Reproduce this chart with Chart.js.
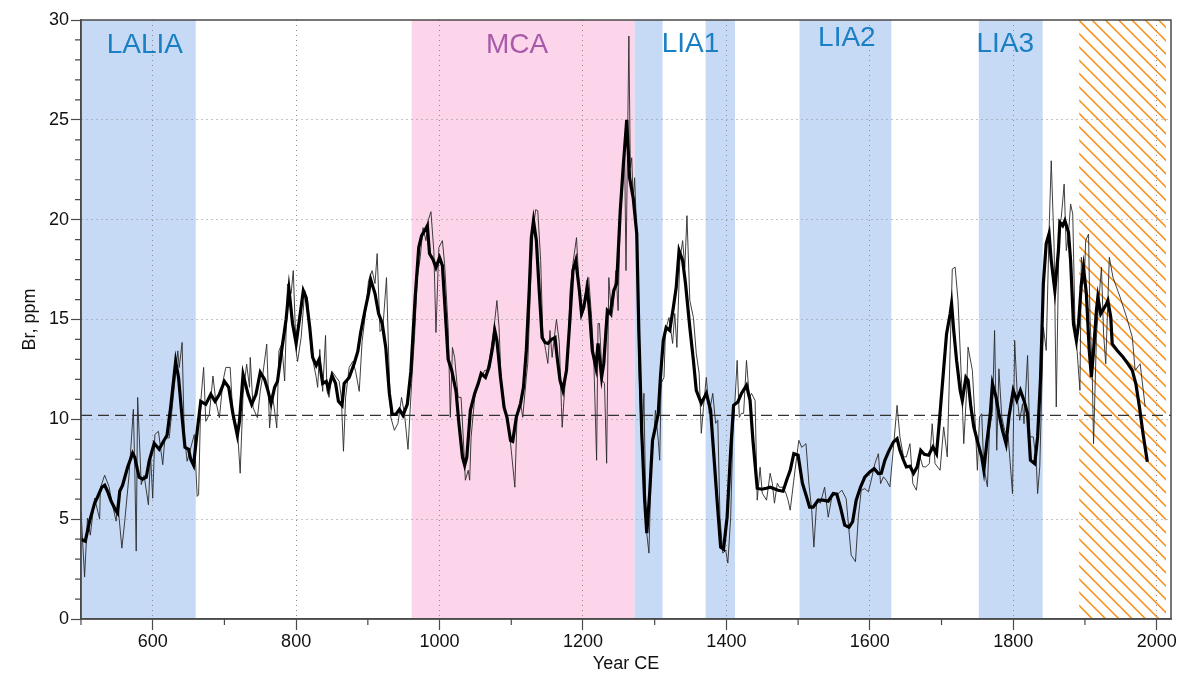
<!DOCTYPE html>
<html>
<head>
<meta charset="utf-8">
<script src="https://cdn.jsdelivr.net/npm/chart.js@4.4.1/dist/chart.umd.min.js"></script>
<style>
  html, body { margin: 0; padding: 0; background: #fff; }
  #wrap { width: 1181px; height: 676px; }
</style>
</head>
<body>
<div id="wrap"><canvas id="br-chart" width="1181" height="676"></canvas></div>
<script>
// Br record, [year CE, ppm]
const brRaw = [
  [500,5.4],[505,2.1],[509,5.05],[513,4.2],[519,6.05],[526,5.0],[527,6.56],[533,7.2],[539,6.64],[544,5.7],
  [549,4.9],[551,5.9],[557,3.55],[561,4.9],[567,7.2],[573,10.5],[575,7.56],[577,3.4],[579,11.1],[584,6.73],
  [588,7.2],[594,5.72],[597,8.23],[600,6.05],[603,9.24],[608,9.4],[614,7.73],[617,9.07],[623,9.07],[630,11.6],
  [635,13.43],[637,12.6],[641,13.85],[644,9.24],[648,7.9],[653,8.57],[658,9.24],[662,6.14],[664,6.22],[667,10.9],
  [671,12.6],[674,9.9],[679,10.25],[684,12.17],[688,10.9],[693,10.08],[698,11.92],[702,12.6],[708,12.6],[712,10.08],
  [718,9.57],[722,7.3],[726,11.25],[731,12.76],[735,11.6],[736,13.1],[740,10.58],[746,10.08],[750,11.42],[753,12.1],
  [759,13.77],[763,9.57],[767,11.25],[773,9.57],[776,13.43],[780,13.77],[784,11.92],[788,16.78],[793,16.3],[796,17.45],
  [800,13.4],[802,12.9],[807,14.1],[812,16.45],[816,15.95],[821,13.4],[828,12.1],[830,11.6],[833,13.5],[837,11.4],
  [841,14.2],[843,11.4],[846,11.1],[850,12.4],[856,12.1],[860,11.9],[863,11.1],[866,8.4],[869,11.1],[874,12.6],
  [879,12.9],[883,12.4],[888,11.4],[892,13.9],[896,15.1],[901,16.95],[906,17.45],[910,16.8],[913,18.3],[917,14.4],
  [921,14.6],[926,17.1],[930,12.0],[932,10.1],[937,9.45],[942,9.8],[947,11.1],[951,10.3],[956,8.5],[961,11.8],
  [965,14.1],[969,17.1],[973,18.1],[977,19.6],[981,18.95],[984,19.95],[988,20.4],[992,18.45],[995,14.35],[999,18.6],
  [1004,18.95],[1007,17.8],[1012,14.6],[1015,10.1],[1018,13.6],[1021,13.1],[1026,11.1],[1030,11.1],[1034,8.45],[1036,6.95],
  [1040,7.45],[1042,6.95],[1044,9.1],[1049,11.1],[1054,11.8],[1058,12.1],[1063,12.45],[1066,12.45],[1070,13.1],[1074,14.1],
  [1077,14.95],[1080,15.95],[1083,14.6],[1086,11.8],[1091,10.45],[1095,10.1],[1100,8.45],[1105,6.6],[1108,10.1],[1113,10.8],
  [1116,10.1],[1121,12.1],[1123,12.8],[1127,16.8],[1130,19.3],[1134,20.5],[1137,20.45],[1141,17.95],[1144,14.3],[1148,13.45],
  [1151,12.8],[1154,14.45],[1157,13.1],[1159,13.8],[1163,15.0],[1167,13.85],[1170,10.6],[1171,9.6],[1175,11.8],[1179,13.45],
  [1182,16.45],[1186,17.8],[1191,19.1],[1195,16.3],[1198,15.1],[1201,15.45],[1205,16.95],[1208,17.1],[1212,15.1],[1215,13.1],
  [1219,7.95],[1221,14.8],[1223,14.8],[1227,11.95],[1230,11.8],[1233,7.8],[1236,17.1],[1240,15.1],[1242,15.6],[1246,17.45],
  [1249,15.45],[1252,20.45],[1255,21.5],[1258,23.6],[1260,17.45],[1264,29.2],[1266,22.6],[1268,23.1],[1270,20.95],[1272,22.1],
  [1275,19.3],[1278,12.6],[1282,8.45],[1285,11.3],[1288,4.6],[1292,3.3],[1295,7.6],[1299,9.3],[1301,10.45],[1305,8.95],
  [1307,7.95],[1309,11.8],[1313,12.1],[1315,14.45],[1320,15.1],[1325,13.8],[1328,15.3],[1331,13.6],[1335,17.95],[1339,18.95],
  [1342,17.6],[1345,20.2],[1349,15.95],[1354,15.1],[1358,13.3],[1362,12.3],[1365,9.3],[1368,10.6],[1372,12.1],[1376,10.3],
  [1381,11.3],[1385,9.8],[1388,9.95],[1391,5.1],[1395,3.3],[1399,3.45],[1402,2.8],[1406,5.1],[1409,9.3],[1412,10.95],
  [1415,12.95],[1418,10.1],[1421,10.3],[1424,10.3],[1428,12.95],[1432,11.1],[1435,11.3],[1440,10.95],[1443,5.95],[1447,7.6],
  [1450,6.3],[1456,5.95],[1461,7.3],[1464,6.8],[1467,5.8],[1471,6.8],[1474,6.6],[1479,6.6],[1483,6.3],[1486,5.95],
  [1489,5.45],[1494,6.95],[1498,8.1],[1501,8.95],[1505,8.6],[1511,8.78],[1515,6.8],[1519,5.45],[1522,3.6],[1526,5.95],
  [1531,5.8],[1537,6.6],[1542,5.1],[1547,6.1],[1551,6.28],[1556,6.28],[1561,6.45],[1567,6.03],[1574,3.2],[1580,2.87],
  [1584,5.1],[1588,6.45],[1593,6.53],[1598,6.37],[1602,6.95],[1607,7.78],[1612,8.28],[1615,6.78],[1619,7.12],[1623,6.95],
  [1628,6.62],[1633,8.62],[1638,10.7],[1642,9.12],[1647,8.12],[1651,8.12],[1656,8.78],[1660,6.78],[1665,6.45],[1670,8.12],
  [1674,7.62],[1678,7.62],[1683,7.78],[1687,9.78],[1691,7.78],[1698,7.45],[1703,9.62],[1708,8.12],[1712,13.45],[1715,17.53],
  [1719,17.62],[1723,15.95],[1728,11.78],[1731,8.78],[1735,11.45],[1737,13.62],[1743,12.45],[1747,9.78],[1750,7.45],[1753,10.12],
  [1756,10.28],[1759,7.62],[1764,6.62],[1767,9.45],[1771,10.45],[1774,14.45],[1777,8.45],[1780,12.53],[1784,10.12],[1788,9.45],
  [1793,9.12],[1799,6.28],[1802,13.95],[1806,10.95],[1809,9.95],[1813,10.78],[1815,9.78],[1820,13.2],[1823,9.12],[1828,9.12],
  [1832,7.95],[1834,6.28],[1837,7.62],[1842,14.62],[1846,13.45],[1850,19.45],[1853,22.95],[1857,18.6],[1860,10.62],[1864,19.62],
  [1867,20.12],[1871,21.78],[1874,18.45],[1877,19.28],[1880,20.78],[1883,20.28],[1886,14.95],[1889,13.45],[1893,11.45],[1895,18.12],
  [1899,16.78],[1901,18.95],[1905,19.28],[1907,15.12],[1910,12.62],[1912,8.78],[1916,14.12],[1919,15.78],[1923,17.62],[1926,14.28],
  [1929,12.78],[1934,18.12],[1939,17.12],[1949,16.12],[1958,15.12],[1966,14.12],[1970,12.45],[1977,12.78],[1984,10.62]
];

// smoothed curve
const brSmooth = [
  [500,4.0],[506,3.9],[512,4.9],[519,5.8],[523,6.1],[529,6.6],[533,6.7],[537,6.4],[542,5.9],[549,5.4],
  [551,5.3],[554,6.4],[558,6.7],[565,7.6],[572,8.3],[575,8.1],[581,7.1],[586,7.0],[591,7.1],[595,7.9],
  [602,8.8],[609,8.5],[615,8.9],[620,9.2],[625,10.6],[632,12.9],[636,12.1],[641,10.1],[645,8.6],[650,8.5],
  [653,8.0],[657,7.7],[662,9.4],[667,10.9],[674,10.75],[681,11.25],[687,10.9],[693,11.25],[700,11.9],[706,11.6],
  [712,10.25],[718,9.2],[721,9.9],[726,12.25],[733,11.25],[738,10.75],[744,11.25],[750,12.35],[756,12.0],[761,11.4],
  [765,10.8],[770,11.6],[774,11.9],[779,13.25],[786,15.0],[790,16.5],[795,14.8],[800,13.8],[805,15.1],[810,16.45],
  [814,16.1],[819,14.6],[823,13.1],[828,12.7],[832,13.0],[837,11.8],[842,11.9],[845,11.5],[850,12.2],[855,11.8],
  [859,10.9],[864,10.7],[867,11.8],[874,12.1],[881,12.8],[886,13.4],[890,14.35],[896,15.45],[901,16.3],[904,17.0],
  [910,16.3],[915,15.3],[920,14.8],[925,13.6],[930,11.3],[934,10.25],[939,10.25],[944,10.5],[949,10.2],[955,10.75],
  [960,12.4],[966,16.1],[971,18.6],[975,19.2],[980,19.5],[983,19.7],[986,18.3],[991,18.0],[995,17.6],[1000,18.1],
  [1004,17.7],[1007,15.95],[1012,13.0],[1017,12.45],[1023,11.4],[1027,9.8],[1032,8.1],[1035,7.7],[1038,8.1],[1043,10.45],
  [1049,11.3],[1054,11.8],[1058,12.3],[1064,12.1],[1069,12.6],[1074,13.6],[1077,14.45],[1080,13.95],[1085,12.1],[1090,10.6],
  [1094,10.1],[1099,8.95],[1102,8.9],[1107,10.1],[1113,10.8],[1117,11.6],[1121,13.45],[1125,16.45],[1128,19.1],[1131,19.95],
  [1135,18.95],[1139,16.45],[1143,14.1],[1147,13.85],[1151,13.8],[1156,14.0],[1161,14.1],[1164,13.1],[1168,11.95],[1172,11.45],
  [1177,12.45],[1182,15.1],[1186,17.45],[1190,17.95],[1195,16.45],[1198,15.3],[1201,15.6],[1206,16.6],[1209,15.45],[1213,13.45],
  [1218,12.6],[1221,13.8],[1226,12.1],[1229,12.8],[1234,15.45],[1238,15.3],[1243,16.45],[1247,16.8],[1252,20.45],[1256,22.6],
  [1261,25.0],[1265,22.1],[1270,21.1],[1275,19.3],[1278,14.3],[1282,9.3],[1286,5.95],[1289,4.3],[1293,6.3],[1297,8.95],
  [1301,9.6],[1305,10.3],[1308,12.1],[1312,13.95],[1316,14.6],[1321,14.45],[1326,15.6],[1330,16.6],[1334,18.45],[1339,17.95],
  [1343,16.8],[1349,14.6],[1354,12.95],[1358,11.45],[1365,10.8],[1372,11.3],[1378,10.45],[1382,8.45],[1387,5.95],[1392,3.6],
  [1396,3.5],[1401,5.1],[1406,8.45],[1410,10.7],[1416,10.87],[1421,11.3],[1428,11.7],[1433,10.95],[1437,8.95],[1443,6.55],
  [1449,6.5],[1456,6.55],[1461,6.6],[1465,6.55],[1472,6.45],[1479,6.4],[1484,6.95],[1489,7.45],[1494,8.28],[1500,8.2],
  [1506,6.8],[1512,6.1],[1516,5.6],[1521,5.6],[1528,5.95],[1535,5.95],[1542,5.9],[1549,6.28],[1554,6.25],[1559,5.6],
  [1565,4.7],[1571,4.6],[1576,4.87],[1581,5.95],[1587,6.6],[1593,7.1],[1600,7.37],[1606,7.53],[1612,7.28],[1616,7.3],
  [1621,7.95],[1626,8.37],[1633,8.87],[1638,9.03],[1642,8.45],[1647,7.95],[1651,7.62],[1656,7.65],[1661,7.3],[1666,7.62],
  [1671,8.45],[1676,8.25],[1682,8.2],[1688,8.62],[1693,8.28],[1697,9.9],[1702,12.1],[1707,14.28],[1712,15.28],[1714,15.8],
  [1717,14.45],[1721,12.95],[1726,11.45],[1729,10.95],[1734,12.1],[1737,11.95],[1741,10.6],[1745,9.62],[1751,8.78],[1756,8.12],
  [1759,7.45],[1763,8.78],[1768,10.28],[1771,11.78],[1776,11.12],[1780,10.28],[1785,9.45],[1790,8.78],[1794,10.12],[1800,11.45],
  [1805,10.95],[1810,11.45],[1815,10.95],[1820,10.28],[1824,7.95],[1830,7.78],[1834,9.12],[1838,12.0],[1842,16.8],[1846,18.8],
  [1850,19.3],[1853,17.95],[1858,16.45],[1863,18.45],[1865,19.87],[1869,19.7],[1872,19.95],[1877,19.37],[1880,17.95],[1884,14.78],
  [1888,13.95],[1891,14.78],[1895,16.8],[1898,17.6],[1902,16.28],[1906,13.45],[1909,12.12],[1912,13.45],[1916,15.45],[1918,16.12],
  [1922,15.28],[1926,15.53],[1930,15.78],[1932,15.95],[1936,15.12],[1938,13.78],[1945,13.45],[1953,13.12],[1960,12.78],[1966,12.45],
  [1971,11.78],[1976,10.62],[1981,9.28],[1987,7.87]
];

const meanBr = 10.2;

const periodNames = ['LALIA', 'MCA', 'LIA1', 'LIA1', 'LIA2', 'LIA3'];
const periodStart = [500, 961, 1272, 1371, 1502, 1752];
const periodEnd = [660, 1272, 1311, 1412, 1630, 1841];
const periodKind = ['cold', 'warm', 'cold', 'cold', 'cold', 'cold'];
const hatchStart = 1892;
const hatchEnd = 2013;

const xTickLabels = [600, 800, 1000, 1200, 1400, 1600, 1800, 2000];
const yTickLabels = [0, 5, 10, 15, 20, 25, 30];

// where the period names sit (year, ppm of the text baseline)
const labelSpots = [
  { text: 'LALIA', year: 589, br: 28.35, color: '#1a7fc3' },
  { text: 'MCA', year: 1108, br: 28.35, color: '#a65aa9' },
  { text: 'LIA1', year: 1350, br: 28.4, color: '#1a7fc3' },
  { text: 'LIA2', year: 1568, br: 28.7, color: '#1a7fc3' },
  { text: 'LIA3', year: 1789, br: 28.4, color: '#1a7fc3' }
];

const FONT = "'Liberation Sans', Arial, Helvetica, sans-serif";
const AXIS = '#4a4a4a';
const BLUE = '#c6d9f5';
const PINK = '#fdd5ea';
const GRID = '#8c8c8c';

const toPoints = arr => arr.map(p => ({ x: p[0], y: p[1] }));

const periodBands = {
  id: 'periodBands',
  beforeDraw(chart) {
    const { ctx, chartArea: a, scales: { x } } = chart;
    ctx.save();
    ctx.beginPath();
    ctx.rect(a.left, a.top, a.right - a.left, a.bottom - a.top);
    ctx.clip();
    periodStart.forEach((s, i) => {
      const x1 = x.getPixelForValue(s);
      const x2 = x.getPixelForValue(periodEnd[i]);
      ctx.fillStyle = periodKind[i] === 'warm' ? PINK : BLUE;
      ctx.fillRect(x1, a.top, x2 - x1, a.bottom - a.top);
    });
    // hatched modern part
    const h1 = x.getPixelForValue(hatchStart);
    const h2 = x.getPixelForValue(hatchEnd);
    ctx.beginPath();
    ctx.rect(h1, a.top, h2 - h1, a.bottom - a.top);
    ctx.clip();
    ctx.strokeStyle = '#f7931e';
    ctx.lineWidth = 1.6;
    const H = a.bottom - a.top;
    ctx.beginPath();
    for (let sx = h1 - H; sx < h2; sx += 13.3) {
      ctx.moveTo(sx, a.top);
      ctx.lineTo(sx + H, a.bottom);
    }
    ctx.stroke();
    ctx.restore();
  }
};

const periodText = {
  id: 'periodText',
  beforeDatasetsDraw(chart) {
    const { ctx, scales: { x, y } } = chart;
    ctx.save();
    ctx.font = '28px ' + FONT;
    ctx.textAlign = 'center';
    ctx.textBaseline = 'alphabetic';
    labelSpots.forEach(l => {
      ctx.fillStyle = l.color;
      ctx.fillText(l.text, x.getPixelForValue(l.year), y.getPixelForValue(l.br));
    });
    ctx.restore();
  }
};

const frameAndMinor = {
  id: 'frameAndMinor',
  afterDraw(chart) {
    const { ctx, chartArea: a, scales: { x, y } } = chart;
    ctx.save();
    ctx.strokeStyle = AXIS;
    ctx.lineWidth = 1.2;
    ctx.beginPath();
    x.ticks.forEach(t => {
      if (xTickLabels.includes(t.value)) return;
      const px = x.getPixelForValue(t.value);
      ctx.moveTo(px, a.bottom);
      ctx.lineTo(px, a.bottom + 6);
    });
    y.ticks.forEach(t => {
      if (yTickLabels.includes(t.value)) return;
      const py = y.getPixelForValue(t.value);
      ctx.moveTo(a.left, py);
      ctx.lineTo(a.left - 6, py);
    });
    ctx.stroke();
    ctx.lineWidth = 1.5;
    ctx.strokeRect(a.left, a.top, a.right - a.left, a.bottom - a.top);
    ctx.restore();
  }
};

new Chart(document.getElementById('br-chart'), {
  type: 'line',
  data: {
    datasets: [
      {
        label: 'smoothed',
        data: toPoints(brSmooth),
        borderColor: '#000',
        borderWidth: 3.2,
        pointRadius: 0,
        tension: 0,
        order: 0
      },
      {
        label: 'mean',
        data: [{ x: 500, y: meanBr }, { x: 2020, y: meanBr }],
        borderColor: '#333',
        borderWidth: 1.1,
        borderDash: [11, 6],
        pointRadius: 0,
        order: 1
      },
      {
        label: 'Br',
        data: toPoints(brRaw),
        borderColor: '#2a2a2a',
        borderWidth: 0.9,
        pointRadius: 0,
        tension: 0,
        order: 2
      }
    ]
  },
  options: {
    responsive: false,
    animation: false,
    devicePixelRatio: 1,
    layout: { padding: { top: 20, right: 10, left: 0, bottom: 0 } },
    plugins: { legend: { display: false }, tooltip: { enabled: false } },
    scales: {
      x: {
        type: 'linear',
        min: 500,
        max: 2020,
        afterFit(scale) { scale.height = 57; },
        ticks: {
          stepSize: 100,
          includeBounds: false,
          autoSkip: false,
          maxRotation: 0,
          padding: 1,
          color: '#111',
          font: { family: FONT, size: 18 },
          callback: v => xTickLabels.includes(v) ? String(v) : ''
        },
        grid: {
          color: c => (c.tick && xTickLabels.includes(c.tick.value)) ? GRID : 'rgba(0,0,0,0)',
          tickColor: c => (c.tick && xTickLabels.includes(c.tick.value)) ? AXIS : 'rgba(0,0,0,0)',
          tickLength: 11,
          tickWidth: 1.2,
          lineWidth: 1
        },
        border: { display: true, color: AXIS, width: 1.5, dash: [1, 4] },
        title: {
          display: true,
          text: 'Year CE',
          color: '#111',
          font: { family: FONT, size: 18 },
          padding: { top: 0, bottom: 1 }
        }
      },
      y: {
        min: 0,
        max: 30,
        afterFit(scale) { scale.width = 81; },
        ticks: {
          stepSize: 1,
          autoSkip: false,
          padding: 2,
          color: '#111',
          font: { family: FONT, size: 18 },
          callback: v => yTickLabels.includes(v) ? String(v) : ''
        },
        grid: {
          color: c => (c.tick && yTickLabels.includes(c.tick.value) && c.tick.value > 0 && c.tick.value < 30) ? GRID : 'rgba(0,0,0,0)',
          tickColor: c => (c.tick && yTickLabels.includes(c.tick.value)) ? AXIS : 'rgba(0,0,0,0)',
          tickLength: 10,
          tickWidth: 1.2,
          lineWidth: 1
        },
        border: { display: true, color: AXIS, width: 1.5, dash: [1, 4] },
        title: {
          display: true,
          text: 'Br, ppm',
          color: '#111',
          font: { family: FONT, size: 18 },
          padding: { top: 19, bottom: 0 }
        }
      }
    }
  },
  plugins: [periodBands, periodText, frameAndMinor]
});
</script>
</body>
</html>
